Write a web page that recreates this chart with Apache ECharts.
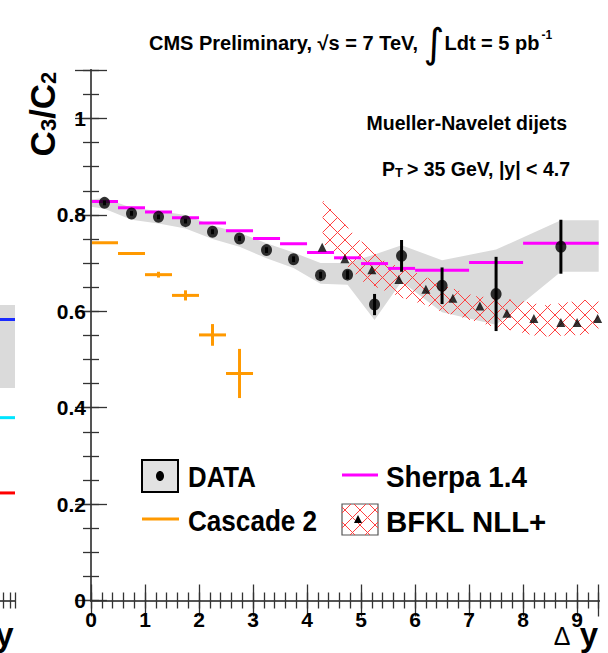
<!DOCTYPE html>
<html>
<head>
<meta charset="utf-8">
<script src="https://cdn.jsdelivr.net/npm/echarts@6/dist/echarts.min.js"></script>
<style>
html,body{margin:0;padding:0;background:#fff;}
#chart{width:608px;height:653px;}
</style>
</head>
<body>
<div id="chart"></div>
<script>
// ===== Data =====
// CMS data: C3/C2 versus delta-y
const dataX   = [0.25, 0.75, 1.25, 1.75, 2.25, 2.75, 3.25, 3.75, 4.25, 4.75, 5.25, 5.75, 6.5, 7.5, 8.7];
const dataY   = [0.825, 0.803, 0.796, 0.787, 0.765, 0.751, 0.727, 0.708, 0.675, 0.676, 0.614, 0.715, 0.653, 0.636, 0.734];
const dataErr = [0.005, 0.005, 0.005, 0.005, 0.005, 0.005, 0.006, 0.006, 0.007, 0.009, 0.022, 0.033, 0.038, 0.077, 0.056];
// systematic uncertainty band of the data
const sysX  = [0, 0.25, 0.75, 1.25, 1.75, 2.25, 2.75, 3.25, 3.75, 4.25, 4.75, 5.25, 5.75, 6.5, 7.5, 8.7, 9.4];
const sysHi = [0.832, 0.835, 0.815, 0.808, 0.800, 0.778, 0.763, 0.741, 0.722, 0.700, 0.700, 0.718, 0.737, 0.706, 0.728, 0.789, 0.789];
const sysLo = [0.817, 0.813, 0.790, 0.782, 0.772, 0.750, 0.734, 0.710, 0.690, 0.657, 0.655, 0.582, 0.662, 0.598, 0.572, 0.682, 0.682];
// Sherpa 1.4 (bin edges and values)
const sherpaLo = [0, 0.5, 1, 1.5, 2, 2.5, 3, 3.5, 4, 4.5, 5, 5.5, 6, 7, 8];
const sherpaHi = [0.5, 1, 1.5, 2, 2.5, 3, 3.5, 4, 4.5, 5, 5.5, 6, 7, 8, 9.4];
const sherpaY  = [0.828, 0.815, 0.806, 0.794, 0.783, 0.767, 0.751, 0.740, 0.722, 0.711, 0.699, 0.689, 0.685, 0.701, 0.741];
// Cascade 2
const cascadeLo  = [0, 0.5, 1, 1.5, 2, 2.5];
const cascadeHi  = [0.5, 1, 1.5, 2, 2.5, 3];
const cascadeY   = [0.742, 0.720, 0.676, 0.633, 0.551, 0.471];
const cascadeErr = [0.0, 0.0, 0.006, 0.0105, 0.0225, 0.051];
// BFKL NLL+ central points
const bfklX = [4.28, 4.7, 5.2, 5.7, 6.2, 6.7, 7.2, 7.7, 8.2, 8.7, 9.0, 9.38];
const bfklY = [0.733, 0.709, 0.686, 0.666, 0.646, 0.627, 0.611, 0.596, 0.585, 0.577, 0.577, 0.585];
// BFKL NLL+ uncertainty band edges
const bfklUpX = [4.29, 4.6, 4.9, 5.45, 6.0, 6.5, 7.1, 7.9, 8.4, 9.1, 9.4];
const bfklUpY = [0.831, 0.793, 0.755, 0.703, 0.682, 0.655, 0.632, 0.623, 0.613, 0.623, 0.627];
const bfklLoX = [4.29, 5.04, 5.41, 5.78, 6.19, 6.46, 7.45, 8.31, 9.12, 9.4];
const bfklLoY = [0.741, 0.661, 0.644, 0.627, 0.613, 0.600, 0.568, 0.547, 0.551, 0.558];
// partially visible neighbouring panel (left edge)
const leftBinLo = 26, leftBinHi = 29.75;
const leftBlueY = 18.55, leftCyanY = 12.07, leftRedY = 7.10;
const leftBandLoY = 14.03, leftBandHiY = 19.5;
// axis ticks
const xMajor = 1, xMinor = 0.2, xMin = 0, xMax = 9.4;
const yMajor = 0.2, yMinor = 0.05, yMin = 0, yMax = 1.1;

// ===== helpers =====
const FONT = "'Liberation Sans', Arial, sans-serif";
const HATCH_COLOR = '#ff4040';

function interp(pts, x) {
  if (x <= pts[0][0]) return pts[0][1];
  for (let i = 1; i < pts.length; i++) {
    if (x <= pts[i][0]) {
      const t = (x - pts[i-1][0]) / (pts[i][0] - pts[i-1][0] || 1);
      return pts[i-1][1] + t * (pts[i][1] - pts[i-1][1]);
    }
  }
  return pts[pts.length-1][1];
}
// diagonal cross-hatching segments between a top and bottom pixel polyline
function hatchSegs(topPts, botPts, spacing) {
  const x0 = Math.max(topPts[0][0], botPts[0][0]);
  const x1 = Math.min(topPts[topPts.length-1][0], botPts[botPts.length-1][0]);
  const step = 0.25, segs = [];
  for (const s of [1, -1]) {
    let cmin = Infinity, cmax = -Infinity;
    for (let x = x0; x <= x1; x += step) {
      const a = interp(topPts, x) - s * x, b = interp(botPts, x) - s * x;
      cmin = Math.min(cmin, a, b); cmax = Math.max(cmax, a, b);
    }
    for (let k = Math.ceil(cmin / spacing); k * spacing <= cmax; k++) {
      const c = k * spacing; let start = null, prev = null;
      const emit = (xa, xb) => { if (xb - xa > 0.3) segs.push([xa, s*xa + c, xb, s*xb + c]); };
      for (let x = x0; x <= x1 + 1e-9; x += step) {
        const y = s * x + c;
        const inside = y >= interp(topPts, x) - 0.01 && y <= interp(botPts, x) + 0.01;
        if (inside && start === null) start = x;
        if (!inside && start !== null) { emit(start, prev); start = null; }
        prev = x;
      }
      if (start !== null) emit(start, prev);
    }
  }
  return segs;
}
function segsToPath(segs) {
  return segs.map(g => 'M' + g[0].toFixed(2) + ' ' + g[1].toFixed(2) + 'L' + g[2].toFixed(2) + ' ' + g[3].toFixed(2)).join('');
}

// axis builders
function axis(grid, pos, min, max, interval, len, label) {
  return {
    type: 'value', gridIndex: grid, position: pos, min: min, max: max, interval: interval,
    axisLine: {show: true, lineStyle: {color: '#555', width: 2}},
    axisTick: {show: true, inside: true, length: len, lineStyle: {color: '#333', width: 1.3}},
    minorTick: {show: false}, splitLine: {show: false}, minorSplitLine: {show: false},
    axisLabel: label || {show: false},
    z: 10
  };
}
const xLabel = {show: true, margin: 10.5, color: '#000', fontSize: 21, lineHeight: 16, fontWeight: 'bold', fontFamily: FONT,
  formatter: v => Math.abs(v - Math.round(v)) < 1e-6 ? String(Math.round(v)) : ''};
const yLabel = {show: true, margin: 5, color: '#000', fontSize: 21, fontWeight: 'bold', fontFamily: FONT,
  formatter: v => { if (v > 1.0001) return ''; const r = Math.round(v * 10) / 10; return String(r); }};

// horizontal bin markers (+ optional vertical error bars)
function binSeries(name, lo, hi, y, err, color, width, z, xi, yi) {
  return {
    type: 'custom', name: name, xAxisIndex: xi || 0, yAxisIndex: yi || 0, clip: true, z: z,
    encode: {x: [0, 1], y: 2},
    data: lo.map((l, i) => [l, hi[i], y[i], err ? err[i] : 0]),
    renderItem: function (params, api) {
      const a = api.coord([api.value(0), api.value(2)]);
      const b = api.coord([api.value(1), api.value(2)]);
      const ch = [{type: 'line', shape: {x1: a[0], y1: a[1], x2: b[0], y2: b[1]}, style: {stroke: color, lineWidth: width}}];
      if (api.value(3) > 0) {
        const xm = (api.value(0) + api.value(1)) / 2;
        const p = api.coord([xm, api.value(2) + api.value(3)]);
        const q = api.coord([xm, api.value(2) - api.value(3)]);
        ch.push({type: 'line', shape: {x1: p[0], y1: p[1], x2: q[0], y2: q[1]}, style: {stroke: color, lineWidth: width}});
      }
      return {type: 'group', children: ch};
    }
  };
}

const GRID_L = 91, GRID_R = 598.7, GRID_T = 70.3, GRID_B = 600.5;

const option = {
  animation: false,
  backgroundColor: '#fff',
  grid: [
    {left: GRID_L, top: GRID_T, width: GRID_R - GRID_L, height: GRID_B - GRID_T, containLabel: false, outerBoundsMode: 'none'},
    {left: 10 - 29 * (198.3 / 29.75), top: GRID_T, width: 198.3, height: GRID_B - GRID_T, containLabel: false, outerBoundsMode: 'none'}
  ],
  xAxis: [
    axis(0, 'bottom', xMin, xMax, xMajor, 16, xLabel),
    axis(0, 'bottom', xMin, xMax, xMinor, 8),
    axis(0, 'top', xMin, xMax, xMajor, 16),
    axis(0, 'top', xMin, xMax, xMinor, 8),
    axis(1, 'bottom', 0, 29.75, 1, 8),
    axis(1, 'top', 0, 29.75, 1, 8)
  ],
  yAxis: [
    axis(0, 'left', yMin, yMax, yMajor, 16, yLabel),
    axis(0, 'left', yMin, yMax, yMinor, 8),
    axis(0, 'right', yMin, yMax, yMajor, 16),
    axis(0, 'right', yMin, yMax, yMinor, 8),
    axis(1, 'right', 0, 35, 5, 15),
    axis(1, 'right', 0, 35, 1, 8)
  ],
  series: [
    // data systematic band
    {
      type: 'custom', name: 'DATA syst', xAxisIndex: 0, yAxisIndex: 0, clip: true, z: 1,
      encode: {x: 0, y: [1, 2]},
      data: sysX.map((x, i) => [x, sysLo[i], sysHi[i]]),
      renderItem: function (params, api) {
        if (params.dataIndex !== 0) return null;
        const up = sysX.map((x, i) => api.coord([x, sysHi[i]]));
        const lo = sysX.map((x, i) => api.coord([x, sysLo[i]])).reverse();
        return {type: 'polygon', shape: {points: up.concat(lo)}, style: {fill: '#dadada', stroke: null}};
      }
    },
    // BFKL hatched band
    {
      type: 'custom', name: 'BFKL band', xAxisIndex: 0, yAxisIndex: 0, clip: true, z: 2,
      encode: {x: 0, y: 1},
      data: bfklUpX.map((x, i) => [x, bfklUpY[i]]),
      renderItem: function (params, api) {
        if (params.dataIndex !== 0) return null;
        const up = bfklUpX.map((x, i) => api.coord([x, bfklUpY[i]]));
        const lo = bfklLoX.map((x, i) => api.coord([x, bfklLoY[i]]));
        return {type: 'path', shape: {pathData: segsToPath(hatchSegs(up, lo, 15))},
          style: {stroke: HATCH_COLOR, lineWidth: 1, fill: 'none'}};
      }
    },
    binSeries('Sherpa 1.4', sherpaLo, sherpaHi, sherpaY, null, '#ff00ff', 3, 3),
    binSeries('Cascade 2', cascadeLo, cascadeHi, cascadeY, cascadeErr, '#ff9900', 3, 3),
    // BFKL central triangles
    {
      type: 'scatter', name: 'BFKL NLL+', xAxisIndex: 0, yAxisIndex: 0, z: 5,
      symbol: 'triangle', symbolSize: 9, itemStyle: {color: '#000'},
      data: bfklX.map((x, i) => [x, bfklY[i]])
    },
    // data error bars
    {
      type: 'custom', name: 'DATA err', xAxisIndex: 0, yAxisIndex: 0, clip: true, z: 6,
      encode: {x: 0, y: 1},
      data: dataX.map((x, i) => [x, dataY[i], dataErr[i]]),
      renderItem: function (params, api) {
        const p = api.coord([api.value(0), api.value(1) + api.value(2)]);
        const q = api.coord([api.value(0), api.value(1) - api.value(2)]);
        return {type: 'line', shape: {x1: p[0], y1: p[1], x2: q[0], y2: q[1]}, style: {stroke: '#000', lineWidth: 3}};
      }
    },
    {
      type: 'scatter', name: 'DATA', xAxisIndex: 0, yAxisIndex: 0, z: 7,
      symbol: 'circle', symbolSize: [11, 12], itemStyle: {color: '#000'},
      data: dataX.map((x, i) => [x, dataY[i]])
    },
    // neighbouring panel (only its right edge is visible)
    {
      type: 'custom', name: 'left band', xAxisIndex: 4, yAxisIndex: 4, clip: true, z: 1,
      encode: {x: [0, 1], y: [2, 3]},
      data: [[leftBinLo, leftBinHi, leftBandLoY, leftBandHiY]],
      renderItem: function (params, api) {
        const a = api.coord([api.value(0), api.value(3)]);
        const b = api.coord([api.value(1), api.value(2)]);
        return {type: 'rect', shape: {x: a[0], y: a[1], width: b[0] - a[0], height: b[1] - a[1]}, style: {fill: '#dadada'}};
      }
    },
    binSeries('left blue', [leftBinLo], [leftBinHi], [leftBlueY], null, '#1a2bff', 3, 3, 4, 4),
    binSeries('left cyan', [leftBinLo], [leftBinHi], [leftCyanY], null, '#00e5ff', 3, 3, 4, 4),
    binSeries('left red', [leftBinLo], [leftBinHi], [leftRedY], null, '#ff0000', 3, 3, 4, 4)
  ],
  graphic: {elements: []}
};

const G = option.graphic.elements;
// title
G.push({type: 'text', x: 149, y: 43, z: 20, style: {
  text: '{t|CMS Preliminary, √s = 7 TeV, }{i|∫}{t|Ldt = 5 pb}{s|-1}',
  align: 'left', verticalAlign: 'middle', fill: '#000',
  rich: {
    t: {fontSize: 20, fontWeight: 'bold', fontFamily: FONT, verticalAlign: 'middle'},
    i: {fontSize: 40, fontFamily: "'DejaVu Sans', sans-serif", verticalAlign: 'middle'},
    s: {fontSize: 12, fontWeight: 'bold', fontFamily: FONT, verticalAlign: 'top', padding: [6, 0, 0, 2]}
  }
}});
// annotations
G.push({type: 'text', x: 567, y: 123, z: 20, style: {text: 'Mueller-Navelet dijets', align: 'right', verticalAlign: 'middle',
  fill: '#000', fontSize: 19.5, fontWeight: 'bold', fontFamily: FONT}});
G.push({type: 'text', x: 570, y: 169, z: 20, style: {
  text: '{t|P}{s|T}{t|> 35 GeV, |y| < 4.7}', align: 'right', verticalAlign: 'middle', fill: '#000',
  rich: {t: {fontSize: 19.5, fontWeight: 'bold', fontFamily: FONT, verticalAlign: 'middle'},
         s: {fontSize: 13, fontWeight: 'bold', fontFamily: FONT, verticalAlign: 'bottom', padding: [0, 4, 0, 0]}}
}});
// y title (rotated)
G.push({type: 'text', x: 42, y: 114, rotation: Math.PI / 2, z: 20, style: {
  text: '{c|C}{s|3}{c|/C}{s|2}', align: 'center', verticalAlign: 'middle', fill: '#000',
  rich: {c: {fontSize: 35, fontWeight: 'bold', fontFamily: FONT, verticalAlign: 'middle'},
         s: {fontSize: 22, fontWeight: 'bold', fontFamily: FONT, verticalAlign: 'bottom'}}
}});
// x titles
G.push({type: 'text', x: 598, y: 634, z: 20, style: {
  text: '{d|Δ}{y| y}', align: 'right', verticalAlign: 'middle', fill: '#000',
  rich: {d: {fontSize: 25, fontFamily: FONT, lineHeight: 16, verticalAlign: 'middle', padding: [3, 0, 0, 0]},
         y: {fontSize: 33, fontWeight: 'bold', fontFamily: FONT, lineHeight: 16, verticalAlign: 'middle'}}
}});
G.push({type: 'text', x: 13.5, y: 634, z: 20, style: {text: 'y', align: 'right', verticalAlign: 'middle',
  fill: '#000', fontSize: 33, lineHeight: 16, fontWeight: 'bold', fontFamily: FONT}});

// legend
const LEG_FONT = {fill: '#000', fontSize: 30, fontWeight: 'bold', fontFamily: FONT, align: 'left', verticalAlign: 'middle'};
G.push({type: 'rect', z: 20, shape: {x: 142, y: 460, width: 36, height: 32}, style: {fill: '#e2e2e2', stroke: '#000', lineWidth: 2}});
G.push({type: 'ellipse', z: 21, shape: {cx: 160, cy: 476, rx: 4, ry: 5}, style: {fill: '#000'}});
G.push({type: 'text', z: 20, x: 188, y: 477, scaleX: 0.86, style: Object.assign({text: 'DATA'}, LEG_FONT)});
G.push({type: 'line', z: 20, shape: {x1: 142, y1: 519, x2: 179, y2: 519}, style: {stroke: '#ff9900', lineWidth: 3}});
G.push({type: 'text', z: 20, x: 188, y: 521, scaleX: 0.87, style: Object.assign({text: 'Cascade 2'}, LEG_FONT)});
G.push({type: 'line', z: 20, shape: {x1: 342, y1: 475, x2: 378, y2: 475}, style: {stroke: '#ff00ff', lineWidth: 3}});
G.push({type: 'text', z: 20, x: 386, y: 477, scaleX: 0.93, style: Object.assign({text: 'Sherpa 1.4'}, LEG_FONT)});
G.push({type: 'rect', z: 20, shape: {x: 342, y: 504, width: 36, height: 31}, style: {fill: '#fff', stroke: '#555', lineWidth: 1.2}});
hatchSegs([[342, 504], [378, 504]], [[342, 535], [378, 535]], 15).forEach(g => G.push({
  type: 'line', z: 21, silent: true, shape: {x1: g[0], y1: g[1], x2: g[2], y2: g[3]},
  style: {stroke: HATCH_COLOR, lineWidth: 1}}));
G.push({type: 'polygon', z: 22, shape: {points: [[358, 515], [362, 523], [354, 523]]}, style: {fill: '#000'}});
G.push({type: 'text', z: 20, x: 386, y: 521, scaleX: 0.98, style: Object.assign({text: 'BFKL NLL+'}, LEG_FONT)});

const chart = echarts.init(document.getElementById('chart'), null, {renderer: 'svg', width: 608, height: 653});
chart.setOption(option);
</script>
</body>
</html>
